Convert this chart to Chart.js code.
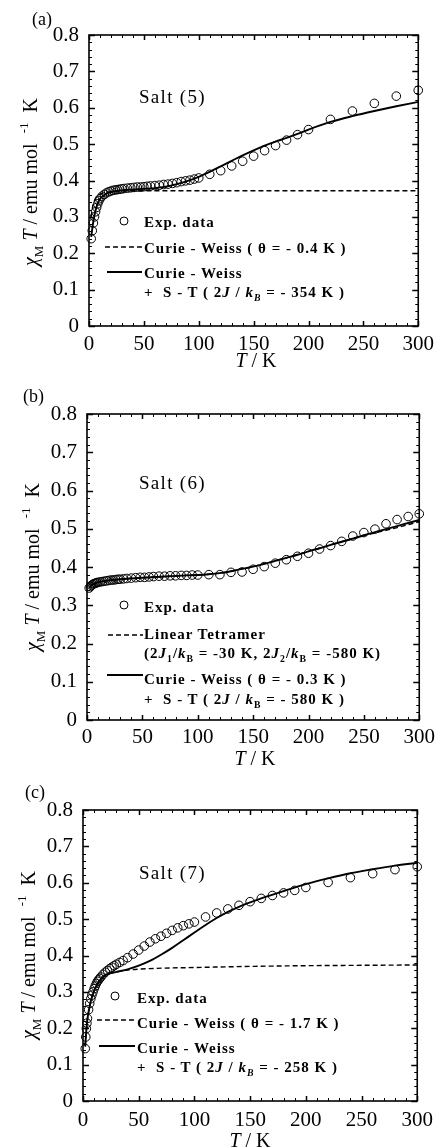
<!DOCTYPE html>
<html>
<head>
<meta charset="utf-8">
<script src="https://cdn.jsdelivr.net/npm/chart.js@4.4.0/dist/chart.umd.min.js"></script>
<style>
body { margin: 0; background: #fff; }
#page { position: relative; width: 440px; height: 1148px; overflow: hidden; color: #000;
        font-family: "Liberation Serif", "Times New Roman", serif; }
.panel { position: absolute; left: 0; width: 440px; }
.panel canvas { position: absolute; left: 0; top: 0; }
.txt { position: absolute; white-space: nowrap; line-height: 1; }
.tag { font-size: 18px; }
.salt { font-size: 19px; letter-spacing: 1.3px; }
.xt { font-size: 20px; transform: translate(-50%, -50%); }
.yt { font-size: 20px; transform: translate(-50%, -50%) rotate(-90deg); }
.lg { font-size: 15px; font-weight: bold; letter-spacing: 1px; transform: translateY(-50%); }
sub { font-size: 65%; line-height: 0; vertical-align: -0.45em; }
sup { font-size: 65%; line-height: 0; vertical-align: 0.7em; }
</style>
</head>
<body>
<div id="page">
  <div class="panel" id="pa" style="top:0;height:380px">
    <canvas id="chartA" width="440" height="380"></canvas>
    <div class="txt tag" style="left:32px;top:10px">(a)</div>
    <div class="txt salt" style="left:139px;top:87px">Salt (5)</div>
    <div class="txt xt" style="left:256px;top:360px"><i>T</i> / K</div>
    <div class="txt yt" style="left:30px;top:182px"><i>χ</i><sub>M</sub> <i>T</i> / emu mol &nbsp;<sup>-1</sup>&nbsp; K</div>
    <div class="txt lg" style="left:144px;top:222px">Exp. data</div>
    <div class="txt lg" style="left:144px;top:248px">Curie - Weiss ( θ = - 0.4 K )</div>
    <div class="txt lg" style="left:144px;top:273px">Curie - Weiss</div>
    <div class="txt lg" style="left:144px;top:292px">+ &nbsp;S - T ( 2<i>J</i> / <i>k<sub>B</sub></i> = - 354 K )</div>
  </div>
  <div class="panel" id="pb" style="top:380px;height:380px">
    <canvas id="chartB" width="440" height="380"></canvas>
    <div class="txt tag" style="left:23px;top:7px">(b)</div>
    <div class="txt salt" style="left:139px;top:93px">Salt (6)</div>
    <div class="txt xt" style="left:255px;top:378px"><i>T</i> / K</div>
    <div class="txt yt" style="left:32px;top:187px"><i>χ</i><sub>M</sub> <i>T</i> / emu mol &nbsp;<sup>-1</sup>&nbsp; K</div>
    <div class="txt lg" style="left:144px;top:227px">Exp. data</div>
    <div class="txt lg" style="left:144px;top:254px">Linear Tetramer</div>
    <div class="txt lg" style="left:144px;top:273px">(2<i>J</i><sub>1</sub>/<i>k</i><sub>B</sub> = -30 K, 2<i>J</i><sub>2</sub>/<i>k</i><sub>B</sub> = -580 K)</div>
    <div class="txt lg" style="left:144px;top:299px">Curie - Weiss ( θ = - 0.3 K )</div>
    <div class="txt lg" style="left:144px;top:319px">+ &nbsp;S - T ( 2<i>J</i> / <i>k</i><sub>B</sub> = - 580 K )</div>
  </div>
  <div class="panel" id="pc" style="top:760px;height:388px">
    <canvas id="chartC" width="440" height="388"></canvas>
    <div class="txt tag" style="left:25px;top:23px">(c)</div>
    <div class="txt salt" style="left:139px;top:103px">Salt (7)</div>
    <div class="txt xt" style="left:250px;top:380px"><i>T</i> / K</div>
    <div class="txt yt" style="left:28px;top:195px"><i>χ</i><sub>M</sub> <i>T</i> / emu mol &nbsp;<sup>-1</sup>&nbsp; K</div>
    <div class="txt lg" style="left:137px;top:238px">Exp. data</div>
    <div class="txt lg" style="left:137px;top:263px">Curie - Weiss ( θ = - 1.7 K )</div>
    <div class="txt lg" style="left:137px;top:288px">Curie - Weiss</div>
    <div class="txt lg" style="left:137px;top:307px">+ &nbsp;S - T ( 2<i>J</i> / <i>k<sub>B</sub></i> = - 258 K )</div>
  </div>
</div>
<script>
// axis ticks shared by all three panels
const xTicks = [0, 50, 100, 150, 200, 250, 300];
const yTicks = [0, 0.1, 0.2, 0.3, 0.4, 0.5, 0.6, 0.7, 0.8];

// (a) Salt (5)
const tempA = [2, 3, 4, 5, 6, 7, 8, 9, 10, 12, 14, 16, 18, 20, 22, 24, 26, 28, 30, 32, 35, 38, 41, 44, 47, 50,
  53, 56, 60, 64, 68, 72, 76, 80, 84, 88, 92, 96, 100, 110, 120, 130, 140, 150, 160, 170, 180, 190, 200,
  220, 240, 260, 280, 300];
const expA = [0.240, 0.262, 0.283, 0.300, 0.314, 0.326, 0.336, 0.344, 0.350, 0.357, 0.362, 0.366, 0.369, 0.371,
  0.373, 0.374, 0.375, 0.376, 0.377, 0.378, 0.379, 0.380, 0.381, 0.382, 0.382, 0.383, 0.384, 0.385, 0.386,
  0.387, 0.389, 0.390, 0.392, 0.394, 0.397, 0.399, 0.401, 0.404, 0.407, 0.417, 0.427, 0.440, 0.453, 0.467,
  0.482, 0.496, 0.511, 0.526, 0.540, 0.568, 0.591, 0.612, 0.632, 0.648];
const cwTempA = [2, 3, 4, 5, 6, 8, 10, 15, 20, 30, 50, 100, 150, 200, 250, 300];
const cwA = [0.300, 0.322, 0.336, 0.345, 0.351, 0.358, 0.362, 0.367, 0.369, 0.371, 0.372, 0.372, 0.372, 0.372,
  0.372, 0.372];
const stTempA = [2, 3, 4, 6, 8, 10, 13, 16, 20, 25, 30, 40, 50, 60, 70, 80, 90, 100, 110, 120, 130, 140, 150,
  160, 170, 180, 190, 200, 220, 240, 260, 280, 300];
const stA = [0.245, 0.268, 0.288, 0.318, 0.337, 0.349, 0.358, 0.364, 0.368, 0.371, 0.373, 0.375, 0.377, 0.379,
  0.383, 0.390, 0.399, 0.410, 0.424, 0.439, 0.454, 0.469, 0.483, 0.496, 0.507, 0.517, 0.528, 0.540, 0.561,
  0.577, 0.591, 0.604, 0.616];

// (b) Salt (6)
const tempB = [2, 3, 4, 5, 6, 7, 8, 9, 10, 12, 14, 16, 18, 20, 22, 24, 26, 28, 30, 33, 36, 40, 44, 48, 52, 56,
  60, 65, 70, 75, 80, 85, 90, 95, 100, 110, 120, 130, 140, 150, 160, 170, 180, 190, 200, 210, 220, 230, 240,
  250, 260, 270, 280, 290, 300];
const expB = [0.345, 0.349, 0.352, 0.354, 0.356, 0.357, 0.358, 0.359, 0.360, 0.361, 0.362, 0.363, 0.364, 0.365,
  0.366, 0.366, 0.367, 0.368, 0.368, 0.369, 0.370, 0.371, 0.372, 0.373, 0.373, 0.374, 0.375, 0.376, 0.376,
  0.377, 0.377, 0.378, 0.378, 0.379, 0.379, 0.380, 0.380, 0.386, 0.387, 0.394, 0.401, 0.410, 0.419, 0.428,
  0.436, 0.447, 0.456, 0.467, 0.481, 0.490, 0.499, 0.513, 0.524, 0.532, 0.539];
const fitTempB = [2, 4, 6, 10, 15, 20, 30, 50, 70, 90, 100, 110, 120, 130, 140, 150, 160, 170, 180, 190, 200,
  210, 220, 230, 240, 250, 260, 270, 280, 290, 300];
const tetramerB = [0.345, 0.352, 0.356, 0.360, 0.363, 0.365, 0.368, 0.372, 0.375, 0.378, 0.379, 0.381, 0.384,
  0.389, 0.395, 0.401, 0.408, 0.416, 0.424, 0.432, 0.441, 0.449, 0.458, 0.466, 0.474, 0.482, 0.489, 0.496,
  0.503, 0.511, 0.518];
const stB = [0.345, 0.352, 0.356, 0.360, 0.363, 0.365, 0.368, 0.372, 0.375, 0.378, 0.379, 0.381, 0.384, 0.389,
  0.395, 0.401, 0.408, 0.416, 0.424, 0.432, 0.441, 0.449, 0.458, 0.466, 0.474, 0.483, 0.491, 0.499, 0.507,
  0.515, 0.523];

// (c) Salt (7)
const tempC = [2, 2.5, 3, 3.5, 4, 5, 6, 7, 8, 9, 10, 11, 12, 13, 14, 15, 16, 18, 20, 22, 24, 26, 28, 30, 33, 36,
  40, 45, 50, 55, 60, 65, 70, 75, 80, 85, 90, 95, 100, 110, 120, 130, 140, 150, 160, 170, 180, 190, 200,
  220, 240, 260, 280, 300];
const expC = [0.144, 0.176, 0.199, 0.214, 0.227, 0.251, 0.268, 0.281, 0.291, 0.300, 0.309, 0.316, 0.323, 0.329,
  0.333, 0.337, 0.341, 0.348, 0.354, 0.359, 0.364, 0.368, 0.372, 0.376, 0.381, 0.386, 0.394, 0.404, 0.415,
  0.426, 0.437, 0.446, 0.453, 0.461, 0.469, 0.476, 0.482, 0.487, 0.492, 0.506, 0.517, 0.528, 0.538, 0.548,
  0.557, 0.565, 0.572, 0.579, 0.587, 0.601, 0.614, 0.625, 0.636, 0.644];
const cwTempC = [2, 3, 4, 5, 7, 10, 13, 16, 20, 25, 30, 40, 60, 100, 150, 200, 250, 300];
const cwC = [0.150, 0.195, 0.225, 0.245, 0.275, 0.303, 0.322, 0.335, 0.345, 0.351, 0.355, 0.360, 0.364, 0.367,
  0.370, 0.372, 0.373, 0.374];
const stTempC = [2, 3, 4, 5, 7, 10, 13, 16, 20, 25, 30, 35, 40, 50, 60, 70, 80, 90, 100, 110, 120, 130, 140,
  150, 160, 180, 200, 220, 240, 260, 280, 300];
const stC = [0.150, 0.195, 0.225, 0.245, 0.275, 0.303, 0.322, 0.335, 0.346, 0.352, 0.355, 0.358, 0.362, 0.372,
  0.385, 0.402, 0.421, 0.442, 0.463, 0.484, 0.503, 0.520, 0.534, 0.546, 0.557, 0.577, 0.596, 0.612, 0.626,
  0.637, 0.647, 0.655];

function pts(xs, ys) {
  return xs.map(function (t, i) { return { x: t, y: ys[i] }; });
}

// frame with inward major/minor ticks on all four sides
const frameTicks = {
  id: 'frameTicks',
  afterDatasetsDraw: function (chart) {
    const ctx = chart.ctx, a = chart.chartArea, x = chart.scales.x, y = chart.scales.y;
    ctx.save();
    ctx.strokeStyle = '#000';
    for (let t = 0; t <= 300; t += 10) {
      const major = t % 50 === 0;
      const px = Math.round(x.getPixelForValue(t)) + 0.5;
      const len = major ? 5 : 3;
      ctx.lineWidth = major ? 1.5 : 1;
      ctx.beginPath();
      ctx.moveTo(px, a.bottom); ctx.lineTo(px, a.bottom - len);
      ctx.moveTo(px, a.top); ctx.lineTo(px, a.top + len);
      ctx.stroke();
    }
    for (let i = 0; i <= 40; i++) {
      const major = i % 5 === 0;
      const py = Math.round(y.getPixelForValue(i * 0.02)) + 0.5;
      const len = major ? 6 : 3;
      ctx.lineWidth = major ? 1.5 : 1;
      ctx.beginPath();
      ctx.moveTo(a.left, py); ctx.lineTo(a.left + len, py);
      ctx.moveTo(a.right, py); ctx.lineTo(a.right - len, py);
      ctx.stroke();
    }
    ctx.lineWidth = 1.6;
    ctx.strokeRect(a.left, a.top, a.right - a.left, a.bottom - a.top);
    ctx.restore();
  }
};

// legend sample symbols (text is in the html overlay)
const samples = {
  id: 'samples',
  afterDraw: function (chart, args, opts) {
    const ctx = chart.ctx;
    ctx.save();
    ctx.strokeStyle = '#000';
    ctx.lineWidth = 1;
    ctx.beginPath();
    ctx.arc(opts.circle[0], opts.circle[1], 4, 0, Math.PI * 2);
    ctx.stroke();
    ctx.lineWidth = 1.4;
    ctx.setLineDash([5, 3]);
    ctx.beginPath();
    ctx.moveTo(opts.dash[0], opts.dash[2]); ctx.lineTo(opts.dash[1], opts.dash[2]);
    ctx.stroke();
    ctx.setLineDash([]);
    ctx.lineWidth = 1.8;
    ctx.beginPath();
    ctx.moveTo(opts.solid[0], opts.solid[2]); ctx.lineTo(opts.solid[1], opts.solid[2]);
    ctx.stroke();
    ctx.restore();
  }
};

function makeChart(id, box, sets) {
  const font = { family: "'Liberation Serif', 'Times New Roman', serif", size: 21 };
  return new Chart(document.getElementById(id), {
    type: 'scatter',
    data: {
      datasets: [
        { data: sets.exp, pointRadius: 4.3, pointBorderWidth: 1, pointBorderColor: '#000',
          pointBackgroundColor: 'rgba(0,0,0,0)', showLine: false, clip: false, order: 0 },
        { data: sets.dash, showLine: true, borderColor: '#000', borderWidth: 1.4, borderDash: [5, 3],
          pointRadius: 0, cubicInterpolationMode: 'monotone', clip: false, order: 2 },
        { data: sets.solid, showLine: true, borderColor: '#000', borderWidth: 1.9,
          pointRadius: 0, cubicInterpolationMode: 'monotone', clip: false, order: 1 }
      ]
    },
    options: {
      responsive: false,
      animation: false,
      devicePixelRatio: 1,
      layout: { padding: { left: 0, top: box.top, right: 440 - box.right, bottom: box.h - box.bottom - 40 } },
      plugins: { legend: { display: false }, tooltip: { enabled: false }, samples: box.samples },
      scales: {
        x: {
          type: 'linear', min: 0, max: 300,
          grid: { display: false, drawTicks: false }, border: { display: false },
          afterBuildTicks: function (s) { s.ticks = xTicks.map(function (v) { return { value: v }; }); },
          ticks: { autoSkip: false, maxRotation: 0, padding: box.xpad, color: '#000', font: font },
          afterFit: function (s) { s.height = 40; }
        },
        y: {
          type: 'linear', min: 0, max: 0.8,
          grid: { display: false, drawTicks: false }, border: { display: false },
          afterBuildTicks: function (s) { s.ticks = yTicks.map(function (v) { return { value: v }; }); },
          ticks: { autoSkip: false, padding: 10, color: '#000', font: font,
            callback: function (v) { return v === 0 ? '0' : v.toFixed(1); } },
          afterFit: function (s) { s.width = box.left; }
        }
      }
    },
    plugins: [frameTicks, samples]
  });
}

makeChart('chartA',
  { left: 89, right: 423, top: 35, bottom: 326, h: 380, xpad: 6,
    samples: { circle: [124, 221], dash: [105, 142, 247], solid: [107, 142, 272] } },
  { exp: pts(tempA, expA), dash: pts(cwTempA, cwA), solid: pts(stTempA, stA) });

makeChart('chartB',
  { left: 87, right: 423, top: 34, bottom: 340, h: 380, xpad: 5,
    samples: { circle: [124, 225], dash: [108, 143, 255], solid: [107, 143, 295] } },
  { exp: pts(tempB, expB), dash: pts(fitTempB, tetramerB), solid: pts(fitTempB, stB) });

makeChart('chartC',
  { left: 83, right: 419, top: 50, bottom: 341, h: 388, xpad: 7,
    samples: { circle: [115, 236], dash: [97, 135, 260], solid: [99, 135, 286] } },
  { exp: pts(tempC, expC), dash: pts(cwTempC, cwC), solid: pts(stTempC, stC) });
</script>
</body>
</html>
